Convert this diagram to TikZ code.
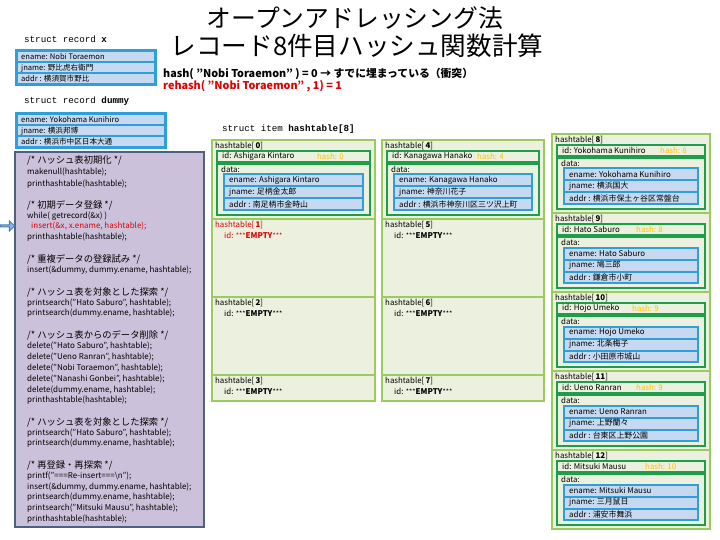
\documentclass[tikz,border=0pt]{standalone}
\usepackage{fontspec}
\setmainfont{Noto Sans CJK JP}
\newfontfamily\monof{Liberation Mono}
\usetikzlibrary{shapes.arrows}
\definecolor{cellfill}{HTML}{EBF1DE}
\definecolor{cellline}{HTML}{9BCB5E}
\definecolor{dgreen}{HTML}{1E9E4A}
\definecolor{bblue}{HTML}{2E9FD8}
\definecolor{lblue}{HTML}{C6D9F1}
\definecolor{codefill}{HTML}{CCC1DA}
\definecolor{codeline}{HTML}{4F6182}
\definecolor{hashc}{HTML}{FFC000}
\definecolor{redc}{HTML}{E00000}
\definecolor{arrfill}{HTML}{8DB4E2}
\definecolor{arrline}{HTML}{4A7EBB}
\tikzset{
  txt/.style={anchor=west, inner sep=0pt, font=\fontsize{7.9}{8.5}\selectfont},
  rtxt/.style={anchor=west, inner sep=0pt, font=\fontsize{7.6}{8.5}\selectfont},
  codetxt/.style={anchor=west, inner sep=0pt, font=\fontsize{8}{8.5}\selectfont},
  cmt/.style={anchor=west, inner sep=0pt, font=\fontsize{9.3}{10}\selectfont},
  head/.style={anchor=west, inner sep=0pt, font=\monof\fontsize{9.2}{10}\selectfont},
  cellbox/.style={fill=cellfill, draw=cellline, line width=2.5pt},
  gbox/.style={draw=dgreen, line width=2.5pt},
  codebox/.style={fill=codefill, draw=codeline, line width=1.5pt},
}
\newcommand{\cw}{163}
\newcommand{\stars}{{\fontsize{7}{7}\selectfont\raisebox{-0.6pt}{***}}}
% #1 name, #2 x0, #3 top, #4 num, #5 ename, #6 hash x offset, #7 jname, #8 addr, #9 hash value
\newcommand{\fullcell}[9]{%
  \draw[cellbox] (#2,#3) rectangle ++(\cw,79);
  \node[txt] (#1l) at (#2+3,#3+6.5) {hashtable[\,\textbf{#4}]};
  \draw[gbox] (#2+5,#3+11) rectangle (#2+\cw-5,#3+22);
  \node[txt] (#1i) at (#2+10,#3+16.5) {id: #5};
  \node[txt,text=hashc] (#1h) at (#2+#6,#3+16.5) {hash: #9};
  \draw[gbox] (#2+5,#3+24) rectangle (#2+\cw-5,#3+75);
  \node[txt] (#1d) at (#2+9,#3+29.5) {data:};
  \fill[bblue] (#2+11,#3+33.5) rectangle (#2+\cw-11,#3+71);
  \fill[lblue] (#2+13,#3+35.5) rectangle (#2+\cw-13,#3+45.5);
  \fill[lblue] (#2+13,#3+47.5) rectangle (#2+\cw-13,#3+57.5);
  \fill[lblue] (#2+13,#3+59.5) rectangle (#2+\cw-13,#3+69);
  \node[txt] (#1e) at (#2+17,#3+40.5) {ename: #5};
  \node[txt] (#1j) at (#2+17,#3+52.5) {jname: #7};
  \node[txt] (#1a) at (#2+17,#3+64.2) {addr : #8};
}
% #1 name, #2 x0, #3 top, #4 height, #5 num, #6 color
\newcommand{\emptycell}[6]{%
  \draw[cellbox] (#2,#3) rectangle ++(\cw,#4);
  \node[txt,text=#6] (#1l) at (#2+3,#3+6.5) {hashtable[\,\textbf{#5}]};
  \node[txt,text=#6] (#1i) at (#2+12,#3+16.5) {id: \stars\textbf{EMPTY}\stars};
}
% #1 name, #2 x0, #3 top, #4 width, #5 ename, #6 jname, #7 addr
\newcommand{\recbox}[7]{%
  \fill[bblue] (#2,#3) rectangle ++(#4,37);
  \fill[lblue] (#2+3,#3+3) rectangle (#2+#4-3,#3+12.5);
  \fill[lblue] (#2+3,#3+14) rectangle (#2+#4-3,#3+23.5);
  \fill[lblue] (#2+3,#3+25) rectangle (#2+#4-3,#3+34);
  \node[rtxt] (#1e) at (#2+6,#3+7.8) {ename: #5};
  \node[rtxt] (#1j) at (#2+6,#3+18.8) {jname: #6};
  \node[rtxt] (#1a) at (#2+6,#3+29.6) {addr : #7};
}
\begin{document}
\begin{tikzpicture}[x=1pt,y=-1pt]
\useasboundingbox[fill=white] (0,0) rectangle (720,540);
% title
\node[inner sep=0pt, font=\fontsize{24.8}{26}\selectfont] (t1) at (355,18) {オープンアドレッシング法};
\node[inner sep=0pt, font=\fontsize{25.6}{27}\selectfont] (t2) at (357,46) {レコード8件目ハッシュ関数計算};
% struct record x
\node[head] (hx) at (24,39) {struct record \textbf{x}};
\recbox{rx}{15}{49}{142}{Nobi Toraemon}{野比虎右衛門}{横須賀市野比}
\node[anchor=west, inner sep=0pt, font=\bfseries\fontsize{10.8}{11}\selectfont] (hl) at (163,74) {hash( "Nobi Toraemon" ) = 0 → すでに埋まっている（衝突）};
\node[anchor=west, inner sep=0pt, text=redc, font=\bfseries\fontsize{10.8}{11}\selectfont] (rl) at (163,86) {rehash( "Nobi Toraemon" , 1) = 1};
% struct record dummy
\node[head] (hd) at (24,101) {struct record \textbf{dummy}};
\recbox{rd}{15}{112}{152}{Yokohama Kunihiro}{横浜邦博}{横浜市中区日本大通}
% code box
\draw[codebox] (15,152) rectangle (204,527);
\node[single arrow, draw=arrline, fill=arrfill, line width=1pt, minimum height=14pt, minimum width=10pt, single arrow head extend=2pt, inner sep=0pt] (arw) at (7,226) {};
\node[cmt] (c1) at (27,160) {/* ハッシュ表初期化 */};
\node[codetxt] (c2) at (27,172) {makenull(hashtable);};
\node[codetxt] (c3) at (27,184) {printhashtable(hashtable);};
\node[cmt] (c5) at (27,205) {/* 初期データ登録 */};
\node[codetxt] (c6) at (27,216) {while( getrecord(\&x) )};
\node[codetxt, text=redc] (c7) at (31,226) {insert(\&x, x.ename, hashtable);};
\node[codetxt] (c8) at (27,237) {printhashtable(hashtable);};
\node[cmt] (c10) at (27,259) {/* 重複データの登録試み */};
\node[codetxt] (c11) at (27,270) {insert(\&dummy, dummy.ename, hashtable);};
\node[cmt] (c13) at (27,292) {/* ハッシュ表を対象とした探索 */};
\node[codetxt] (c14) at (27,303) {printsearch("Hato Saburo", hashtable);};
\node[codetxt] (c15) at (27,313) {printsearch(dummy.ename, hashtable);};
\node[cmt] (c17) at (27,335) {/* ハッシュ表からのデータ削除 */};
\node[codetxt] (c18) at (27,346) {delete("Hato Saburo", hashtable);};
\node[codetxt] (c19) at (27,357) {delete("Ueno Ranran", hashtable);};
\node[codetxt] (c20) at (27,368) {delete("Nobi Toraemon", hashtable);};
\node[codetxt] (c21) at (27,379) {delete("Nanashi Gonbei", hashtable);};
\node[codetxt] (c22) at (27,390) {delete(dummy.ename, hashtable);};
\node[codetxt] (c23) at (27,400) {printhashtable(hashtable);};
\node[cmt] (c25) at (27,422) {/* ハッシュ表を対象とした探索 */};
\node[codetxt] (c26) at (27,433) {printsearch("Hato Saburo", hashtable);};
\node[codetxt] (c27) at (27,443) {printsearch(dummy.ename, hashtable);};
\node[cmt] (c29) at (27,465) {/* 再登録・再探索 */};
\node[codetxt] (c30) at (27,476) {printf("===Re-insert===\textbackslash n");};
\node[codetxt] (c31) at (27,487) {insert(\&dummy, dummy.ename, hashtable);};
\node[codetxt] (c32) at (27,497) {printsearch(dummy.ename, hashtable);};
\node[codetxt] (c33) at (27,508) {printsearch("Mitsuki Mausu", hashtable);};
\node[codetxt] (c34) at (27,519) {printhashtable(hashtable);};
% hashtable header
\node[head] (hh) at (222,129) {struct item \textbf{hashtable[8]}};
% column 1
\renewcommand{\cw}{163}
\fullcell{h0}{212}{140}{0}{Ashigara Kintaro}{105}{足柄金太郎}{南足柄市金時山}{0}
\emptycell{h1}{212}{219}{78}{1}{redc}
\emptycell{h2}{212}{297}{78}{2}{black}
\emptycell{h3}{212}{375}{26}{3}{black}
% column 2
\renewcommand{\cw}{162}
\fullcell{h4}{382}{140}{4}{Kanagawa Hanako}{95}{神奈川花子}{横浜市神奈川区三ツ沢上町}{4}
\emptycell{h5}{382}{219}{78}{5}{black}
\emptycell{h6}{382}{297}{78}{6}{black}
\emptycell{h7}{382}{375}{26}{7}{black}
% column 3
\renewcommand{\cw}{158}
\fullcell{h8}{552}{134}{8}{Yokohama Kunihiro}{108}{横浜国大}{横浜市保土ヶ谷区常盤台}{8}
\fullcell{h9}{552}{213}{9}{Hato Saburo}{84}{鳩三郎}{鎌倉市小町}{8}
\fullcell{h10}{552}{292}{10}{Hojo Umeko}{80}{北条梅子}{小田原市城山}{9}
\fullcell{h11}{552}{371}{11}{Ueno Ranran}{84}{上野蘭々}{台東区上野公園}{9}
\fullcell{h12}{552}{450}{12}{Mitsuki Mausu}{93}{三月鼠日}{浦安市舞浜}{10}
\end{tikzpicture}
\end{document}
